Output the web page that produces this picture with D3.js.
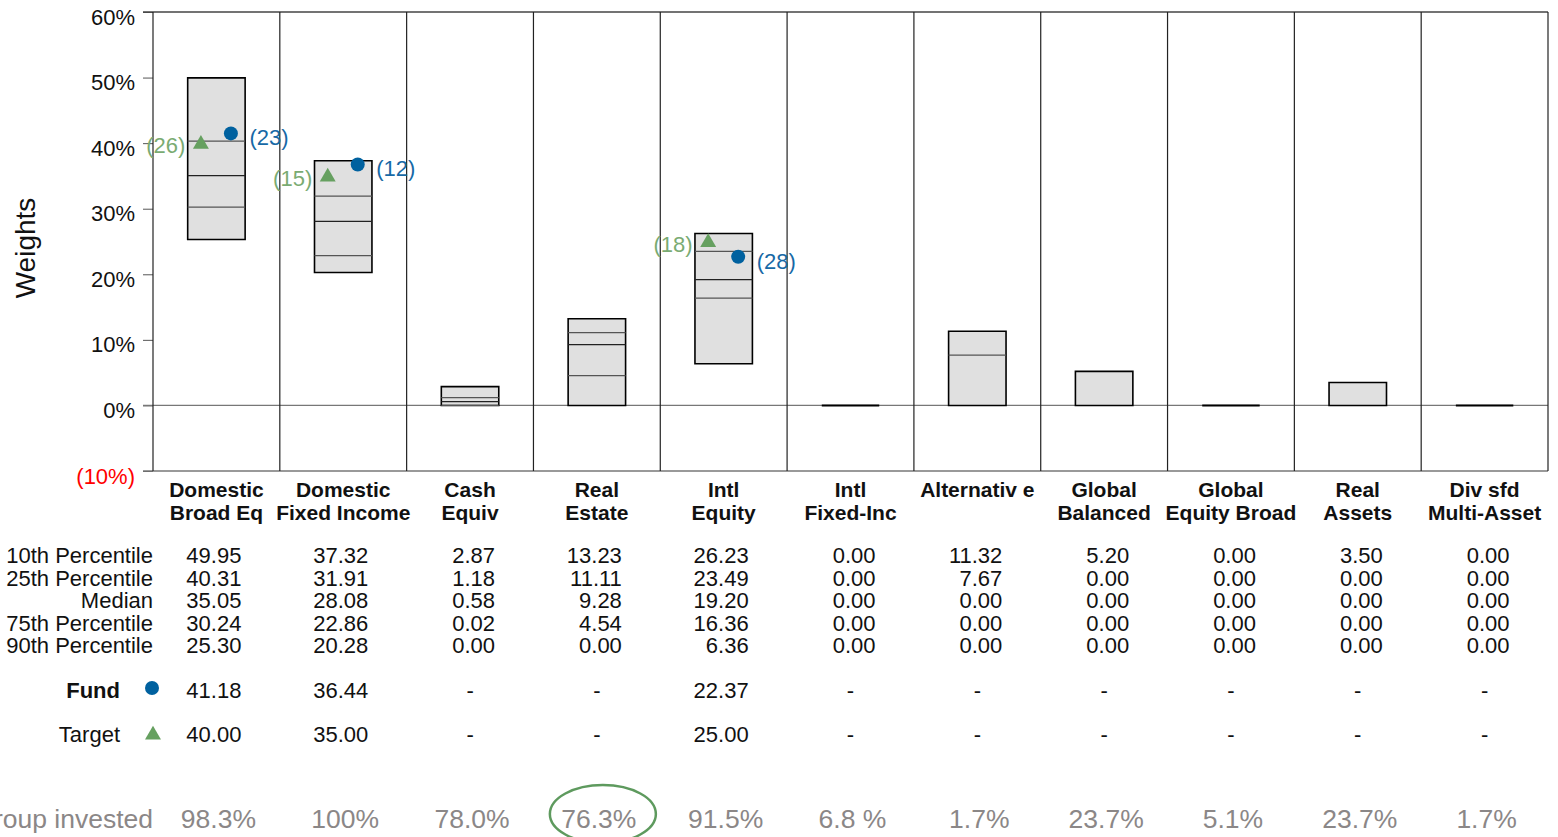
<!DOCTYPE html>
<html>
<head>
<meta charset="utf-8">
<script src="https://cdn.jsdelivr.net/npm/d3@7"></script>
<style>
  html, body { margin: 0; padding: 0; background: #fff; overflow: hidden; }
  svg { display: block; font-family: "Liberation Sans", Arial, sans-serif; }
</style>
</head>
<body>
<div id="chart"></div>
<script>
const categories = [
    ['Domestic', 'Broad Eq'], ['Domestic', 'Fixed Income'], ['Cash', 'Equiv'], ['Real', 'Estate'],
    ['Intl', 'Equity'], ['Intl', 'Fixed-Inc'], ['Alternativ e', ''], ['Global', 'Balanced'],
    ['Global', 'Equity Broad'], ['Real', 'Assets'], ['Div sfd', 'Multi-Asset']
];
const p10 = [49.95, 37.32, 2.87, 13.23, 26.23, 0.00, 11.32, 5.20, 0.00, 3.50, 0.00];
const p25 = [40.31, 31.91, 1.18, 11.11, 23.49, 0.00, 7.67, 0.00, 0.00, 0.00, 0.00];
const median = [35.05, 28.08, 0.58, 9.28, 19.20, 0.00, 0.00, 0.00, 0.00, 0.00, 0.00];
const p75 = [30.24, 22.86, 0.02, 4.54, 16.36, 0.00, 0.00, 0.00, 0.00, 0.00, 0.00];
const p90 = [25.30, 20.28, 0.00, 0.00, 6.36, 0.00, 0.00, 0.00, 0.00, 0.00, 0.00];
const fund = [41.18, 36.44, null, null, 22.37, null, null, null, null, null, null];
const fundRank = [23, 12, null, null, 28, null, null, null, null, null, null];
const target = [40.00, 35.00, null, null, 25.00, null, null, null, null, null, null];
const targetRank = [26, 15, null, null, 18, null, null, null, null, null, null];
const invested = ['98.3%', '100%', '78.0%', '76.3%', '91.5%', '6.8 %', '1.7%', '23.7%', '5.1%', '23.7%', '1.7%'];
const highlighted = 3;
const yTicks = [-10, 0, 10, 20, 30, 40, 50, 60];
const rowLabels = ['10th Percentile', '25th Percentile', 'Median', '75th Percentile', '90th Percentile'];

(() => {
    const width = 1558, height = 837;
    const plotLeft = 153, plotRight = 1548, plotTop = 12, plotBottom = 471;
    const fundColor = '#00619f';
    const fundLabel = '#1769a6';
    const targetColor = '#66a060';
    const targetLabel = '#7aab72';

    const svg = d3.select('#chart').append('svg')
        .attr('width', width)
        .attr('height', height);

    const x = d3.scaleBand()
        .domain(d3.range(categories.length))
        .range([plotLeft, plotRight])
        .paddingInner(0);
    const cx = i => x(i) + x.bandwidth() / 2;
    const boxW = x.bandwidth() * 0.453;

    const y = d3.scaleLinear().domain([-10, 60]).range([plotBottom, plotTop]);

    // y axis
    const yAxis = svg.append('g')
        .attr('transform', `translate(${plotLeft},0)`)
        .call(d3.axisLeft(y).tickValues(yTicks).tickSize(10).tickPadding(8)
            .tickFormat(d => d < 0 ? `(${Math.abs(d)}%)` : `${d}%`));
    yAxis.select('.domain').remove();
    yAxis.selectAll('.tick line').attr('stroke', '#555');
    yAxis.selectAll('.tick text')
        .attr('font-size', 22)
        .attr('font-family', '"Liberation Sans", Arial, sans-serif')
        .attr('dy', '0.55em')
        .attr('fill', d => d < 0 ? '#ff0000' : '#111');

    // horizontal frame lines
    [60, 0, -10].forEach(v => {
        svg.append('line')
            .attr('x1', plotLeft - 10).attr('x2', plotRight)
            .attr('y1', y(v)).attr('y2', y(v))
            .attr('stroke', v === 60 ? '#444' : '#777')
            .attr('stroke-width', 1.3);
    });

    // column separators
    svg.append('g').selectAll('line')
        .data(d3.range(categories.length + 1))
        .join('line')
        .attr('x1', i => i < categories.length ? x(i) : plotRight)
        .attr('x2', i => i < categories.length ? x(i) : plotRight)
        .attr('y1', plotTop).attr('y2', plotBottom)
        .attr('stroke', '#222')
        .attr('stroke-width', 1.2);

    svg.append('text')
        .attr('transform', 'translate(35,248) rotate(-90)')
        .attr('text-anchor', 'middle')
        .attr('font-size', 28)
        .attr('fill', '#111')
        .text('Weights');

    // boxes
    const boxes = svg.append('g').selectAll('g')
        .data(d3.range(categories.length))
        .join('g');

    boxes.append('path')
        .attr('d', i => {
            const x0 = cx(i) - boxW / 2, x1 = cx(i) + boxW / 2;
            return `M${x0},${y(p10[i])}H${x1}V${y(p90[i])}H${x0}Z`;
        })
        .attr('fill', '#e0e0e0')
        .attr('stroke', '#000')
        .attr('stroke-width', i => p10[i] === p90[i] ? 2 : 1.6);

    [p25, median, p75].forEach(arr => {
        boxes.filter(i => arr[i] > p90[i] && arr[i] < p10[i])
            .append('line')
            .attr('x1', i => cx(i) - boxW / 2)
            .attr('x2', i => cx(i) + boxW / 2)
            .attr('y1', i => y(arr[i]))
            .attr('y2', i => y(arr[i]))
            .attr('stroke', arr === median ? '#222' : '#555')
            .attr('stroke-width', 1.3);
    });

    // target markers and ranks
    const tri = d3.symbol().type(d3.symbolTriangle).size(110);
    const withTarget = d3.range(categories.length).filter(i => target[i] != null);
    svg.append('g').selectAll('path')
        .data(withTarget)
        .join('path')
        .attr('d', tri)
        .attr('transform', i => `translate(${cx(i) - 15.5},${y(target[i]) + 1})`)
        .attr('fill', targetColor);
    svg.append('g').selectAll('text')
        .data(withTarget)
        .join('text')
        .attr('x', i => cx(i) - 31)
        .attr('y', i => y(target[i]) + 10)
        .attr('text-anchor', 'end')
        .attr('font-size', 22)
        .attr('fill', targetLabel)
        .text(i => `(${targetRank[i]})`);

    // fund markers and ranks
    const withFund = d3.range(categories.length).filter(i => fund[i] != null);
    svg.append('g').selectAll('circle')
        .data(withFund)
        .join('circle')
        .attr('cx', i => cx(i) + 14.5)
        .attr('cy', i => y(fund[i]) - 2)
        .attr('r', 7)
        .attr('fill', fundColor);
    svg.append('g').selectAll('text')
        .data(withFund)
        .join('text')
        .attr('x', i => cx(i) + 33)
        .attr('y', i => y(fund[i]) + 10)
        .attr('font-size', 22)
        .attr('fill', fundLabel)
        .text(i => `(${fundRank[i]})`);

    // category labels
    const catG = svg.append('g').attr('font-weight', 'bold').attr('font-size', 21).attr('fill', '#111');
    categories.forEach((c, i) => {
        c.forEach((line, k) => {
            catG.append('text')
                .attr('x', cx(i))
                .attr('y', 497 + k * 23)
                .attr('text-anchor', 'middle')
                .text(line);
        });
    });

    // percentile table
    const table = svg.append('g').attr('font-size', 22).attr('fill', '#111');
    const rows = [p10, p25, median, p75, p90];
    rows.forEach((arr, r) => {
        const by = 563 + r * 22.5;
        table.append('text')
            .attr('x', plotLeft).attr('y', by)
            .attr('text-anchor', 'end')
            .text(rowLabels[r]);
        arr.forEach((v, i) => {
            table.append('text')
                .attr('x', cx(i) + 25).attr('y', by)
                .attr('text-anchor', 'end')
                .text(v.toFixed(2));
        });
    });

    // fund / target rows
    [[fund, 'Fund', 698, true], [target, 'Target', 742, false]].forEach(([arr, name, by, bold]) => {
        table.append('text')
            .attr('x', 120).attr('y', by)
            .attr('text-anchor', 'end')
            .attr('font-weight', bold ? 'bold' : 'normal')
            .text(name);
        arr.forEach((v, i) => {
            table.append('text')
                .attr('x', v == null ? cx(i) : cx(i) + 25).attr('y', by)
                .attr('text-anchor', v == null ? 'middle' : 'end')
                .text(v == null ? '-' : v.toFixed(2));
        });
    });
    table.append('circle').attr('cx', 152).attr('cy', 688).attr('r', 7).attr('fill', fundColor);
    table.append('path').attr('d', tri).attr('transform', 'translate(153,735)').attr('fill', targetColor);

    // group invested row
    const inv = svg.append('g').attr('font-size', 26.5).attr('fill', '#8b8787');
    inv.append('text')
        .attr('x', 153).attr('y', 828)
        .attr('text-anchor', 'end')
        .text('Group invested');
    invested.forEach((t, i) => {
        inv.append('text')
            .attr('x', cx(i) + 2).attr('y', 828)
            .attr('text-anchor', 'middle')
            .text(t);
    });
    svg.append('ellipse')
        .attr('cx', cx(highlighted) + 6).attr('cy', 814)
        .attr('rx', 53).attr('ry', 29)
        .attr('fill', 'none')
        .attr('stroke', '#5e9a5e')
        .attr('stroke-width', 2.5);
})();
</script>
</body>
</html>
